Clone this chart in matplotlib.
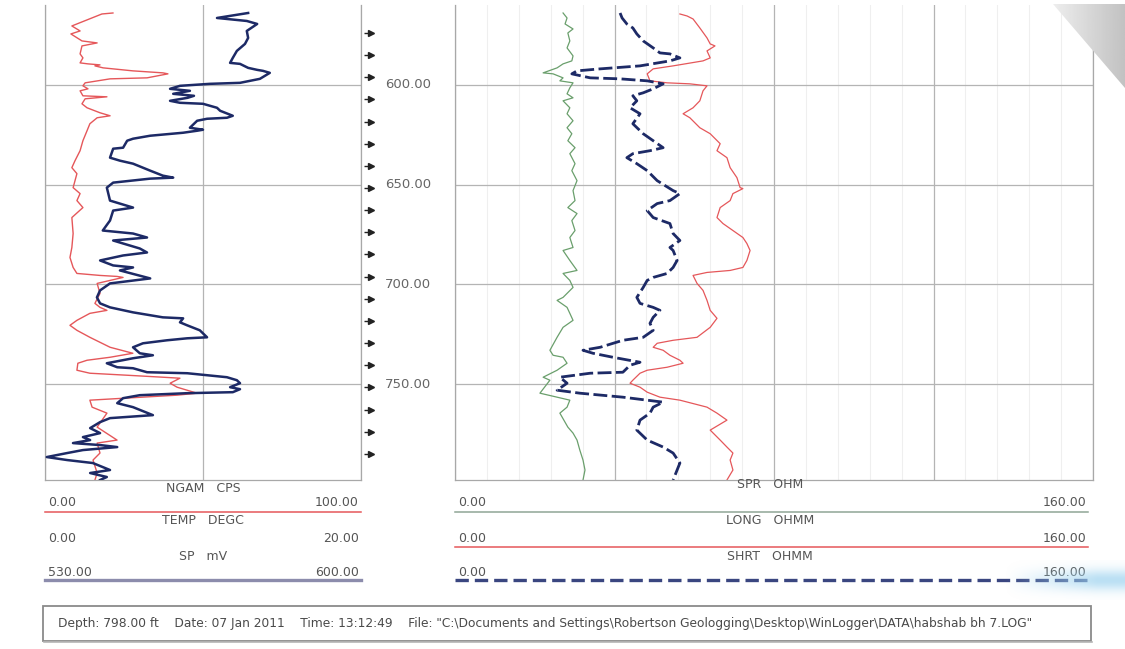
import numpy as np
import matplotlib
matplotlib.use("Agg")
import matplotlib.pyplot as plt
from matplotlib.lines import Line2D
from matplotlib.patches import Polygon, Rectangle

plt.rcParams['font.family'] = ['DejaVu Sans']

# ---------------------------------------------------------------- data
depth_top, depth_bottom = 560.0, 798.0
grid_depths = [600, 650, 700, 750]
depth_labels = ["600.00", "650.00", "700.00", "750.00"]
marker_depths = [574.0, 585.1, 596.2, 607.3, 618.4, 629.5, 640.6, 651.7, 662.8, 673.9,
                 685.0, 696.1, 707.2, 718.3, 729.4, 740.5, 751.6, 762.7, 773.8, 784.9]

# natural gamma, CPS  (depth ft, value)
ngam = [(564, 21.5), (564.5, 18.0), (570.5, 8.5), (573, 11.1), (574.5, 8.2), (578, 11.7),
        (579, 16.5), (580.5, 11.7), (584.5, 11.1), (586.5, 12.0), (589, 11.1), (589.5, 13.6),
        (590, 17.4), (590.5, 15.8), (591.5, 18.4), (593, 27.8), (594, 37.3), (594.5, 38.9),
        (596.5, 32.3), (597, 20.6), (599, 12.7), (600.5, 12.0), (602, 13.6), (603, 11.1),
        (605.5, 12.0), (606, 19.6), (607, 12.7), (609.5, 11.7), (611.5, 13.3), (614, 17.4),
        (615.5, 20.6), (616.5, 16.5), (619.5, 14.2), (623, 13.3), (628, 12.0), (633, 11.1),
        (638, 9.5), (641.5, 8.5), (644.5, 10.1), (651.5, 8.9), (654.5, 11.1), (658, 10.1),
        (661.5, 12.0), (666.5, 8.5), (674.5, 8.9), (681.5, 8.5), (686.5, 7.9), (691.5, 8.9),
        (694.5, 10.1), (695.5, 17.4), (696, 22.8), (696.5, 24.7), (699.5, 16.5), (704.5, 17.4),
        (709.5, 15.8), (711.5, 17.4), (713, 19.6), (714.5, 14.2), (718, 10.1), (720.5, 7.9),
        (723, 10.1), (726.5, 14.2), (731.5, 20.6), (734.5, 27.8), (736.5, 20.6), (738, 13.3),
        (739.5, 10.4), (743, 10.1), (744.5, 14.2), (745.5, 25.9), (746.5, 37.3), (747, 42.7),
        (749.5, 39.6), (751.5, 41.8), (754.5, 48.1), (755.5, 41.8), (758, 14.2), (761.5, 14.9),
        (764.5, 19.6), (771.5, 16.5), (778, 22.8), (779.5, 16.5), (784.5, 17.4), (788, 15.2),
        (794.5, 16.5), (798, 15.8)]

# spontaneous potential, mV
sp = [(564, 575.0), (566.5, 568.1), (568, 574.7), (569.5, 577.0), (573, 574.7), (576.5, 575.0),
      (579.5, 574.3), (583, 572.5), (586.5, 571.6), (589, 571.0), (589.5, 573.2), (591.5, 575.0),
      (592.5, 577.0), (593, 578.3), (594, 579.8), (595.5, 578.7), (597, 577.6), (599, 573.2),
      (599.5, 566.5), (600.5, 559.9), (602, 557.7), (603, 562.1), (604.5, 558.4), (605.5, 563.0),
      (606.5, 561.6), (608, 557.7), (609, 559.9), (609.5, 565.0), (611.5, 568.1), (613, 568.8),
      (615.5, 571.6), (616.5, 570.3), (617, 565.9), (618, 563.7), (621.5, 562.1), (622.5, 565.0),
      (623, 563.7), (624, 560.6), (625.5, 553.3), (627, 549.5), (628, 548.2), (631.5, 547.3),
      (632, 545.1), (636.5, 544.4), (638, 546.6), (639.5, 549.5), (643, 553.3), (645.5, 556.1),
      (646.5, 558.4), (647, 553.3), (649, 545.1), (651.5, 543.7), (658, 544.4), (661.5, 549.5),
      (663, 545.1), (668, 544.4), (673, 542.8), (674.5, 549.5), (676.5, 552.6), (678, 545.1),
      (679.5, 547.3), (682, 551.0), (684, 552.6), (685.5, 547.3), (688, 542.2), (690.5, 545.1),
      (691.5, 549.5), (693, 546.6), (697, 553.3), (699.5, 544.4), (703, 542.2), (706.5, 541.5),
      (709.5, 542.2), (711.5, 544.4), (714, 549.5), (716.5, 556.1), (717, 560.6), (719, 559.9),
      (720.5, 561.5), (723, 564.3), (726.5, 565.9), (727, 561.5), (728, 557.0), (729.5, 551.7),
      (731.5, 549.5), (734.5, 551.0), (735.5, 553.9), (737, 549.5), (739.5, 543.7), (741.5, 546.0),
      (742, 549.5), (744, 552.6), (744.5, 561.5), (746.5, 570.3), (748, 572.5), (749.5, 573.2),
      (751.5, 571.0), (752.5, 573.2), (754, 571.6), (754.5, 561.5), (755.5, 551.0), (757, 547.3),
      (759.5, 546.0), (761.5, 549.5), (765.5, 553.9), (767, 544.4), (769, 542.2), (772, 540.0),
      (774.5, 542.2), (776.5, 538.4), (778, 540.0), (779.5, 536.2), (780.5, 542.2), (781.5, 546.0),
      (783, 538.4), (784.5, 534.9), (786.5, 530.4), (788, 534.9), (789.5, 540.6), (793, 544.4),
      (794.5, 540.0), (796.5, 543.7), (798, 542.2)]

# single point resistance, ohm
spr = [(564, 27.1), (566.5, 28.1), (569.5, 27.6), (572, 29.6), (574, 28.3), (578, 28.8),
       (581.5, 28.1), (585.5, 29.6), (588, 29.3), (589.5, 27.1), (591.5, 25.6), (594, 22.1),
       (594.5, 24.6), (596.5, 27.1), (598, 26.3), (599, 29.6), (601.5, 28.8), (604.5, 28.1),
       (606.5, 29.6), (608, 27.1), (611.5, 28.8), (614.5, 28.1), (618, 29.6), (621.5, 28.1),
       (624.5, 29.3), (628, 28.3), (631.5, 30.1), (634.5, 28.8), (639.5, 30.1), (643, 29.3),
       (648, 30.6), (653, 29.6), (658, 30.1), (661.5, 28.3), (664.5, 30.6), (668, 29.3),
       (673, 30.1), (676.5, 28.8), (681.5, 29.6), (683, 27.1), (688, 28.8), (693, 30.6),
       (694.5, 27.1), (698, 28.8), (701.5, 29.6), (706.5, 27.1), (708, 25.6), (711.5, 28.1),
       (714.5, 28.8), (718, 29.6), (721.5, 27.1), (726.5, 25.6), (733, 23.8), (735.5, 24.6),
       (736.5, 27.1), (739.5, 28.1), (743, 25.6), (746.5, 22.1), (748, 23.8), (754.5, 21.3),
       (756.5, 25.6), (758, 28.8), (761.5, 28.1), (764.5, 26.3), (771.5, 28.3), (774.5, 29.6),
       (778, 30.6), (783, 31.3), (788, 32.1), (793, 32.6), (798, 32.1)]

# long normal resistivity, ohm-m
long_n = [(564.5, 56.4), (565.5, 58.2), (567, 59.7), (571.5, 61.4), (576.5, 63.2), (579.5, 64.0),
          (580.5, 65.2), (583, 63.2), (586.5, 64.0), (588, 62.2), (590.5, 54.7), (592, 49.7),
          (594.5, 48.2), (598, 48.9), (599, 53.2), (599.5, 58.9), (600.5, 63.2), (603, 62.2),
          (608, 61.4), (611.5, 59.7), (614.5, 57.2), (616.5, 58.9), (621.5, 61.4), (624.5, 64.0),
          (629.5, 66.5), (633, 65.7), (636.5, 68.2), (641.5, 69.0), (646.5, 70.7), (651.5, 71.5),
          (652, 72.2), (654.5, 69.7), (658, 69.0), (661.5, 66.5), (666.5, 65.7), (669.5, 67.2),
          (673, 69.7), (676.5, 72.2), (679.5, 73.2), (683, 74.0), (688, 73.2), (691.5, 72.2),
          (693, 69.0), (694, 63.2), (695.5, 59.7), (699.5, 60.7), (703, 62.2), (708, 63.2),
          (713, 64.0), (717, 65.7), (721.5, 64.0), (726.5, 60.7), (728, 54.7), (729.5, 50.7),
          (731.5, 49.7), (733, 52.2), (735.5, 53.9), (738, 56.4), (739.5, 57.2), (741.5, 53.2),
          (743, 48.2), (744.5, 46.4), (748, 44.6), (749.5, 43.9), (751.5, 46.4), (754, 48.2),
          (756.5, 51.4), (758, 56.4), (761.5, 63.2), (764.5, 65.7), (768, 68.2), (773, 64.0),
          (778, 66.5), (781.5, 68.2), (784.5, 69.7), (788, 69.0), (793, 69.7), (798, 68.2)]

# short normal resistivity, ohm-m
shrt_n = [(564, 41.4), (566.5, 41.9), (569.5, 43.1), (571.5, 44.6), (574.5, 45.6), (578, 47.2),
          (581.5, 49.7), (584, 51.4), (584.5, 53.9), (586.5, 56.4), (588, 53.9), (590.5, 46.4),
          (592, 36.4), (593, 30.6), (594.5, 29.3), (596.5, 33.9), (597, 41.4), (598, 48.2),
          (599.5, 52.2), (602, 49.7), (604, 47.2), (605.5, 44.6), (608, 45.6), (611.5, 43.9),
          (614.5, 46.4), (619.5, 44.6), (624.5, 47.2), (628, 49.7), (631.5, 52.2), (633, 48.9),
          (634.5, 44.6), (636.5, 43.1), (639.5, 45.6), (643, 48.2), (648, 50.7), (653, 54.7),
          (654.5, 56.4), (658, 53.9), (659.5, 50.7), (663, 48.2), (666.5, 49.7), (669.5, 53.9),
          (674.5, 54.7), (678, 56.4), (681.5, 53.9), (683, 54.7), (688, 55.7), (691.5, 54.7),
          (694.5, 53.2), (696.5, 49.7), (698, 48.2), (701.5, 47.2), (706.5, 45.6), (709.5, 46.4),
          (711.5, 49.7), (713, 51.4), (716.5, 49.7), (719.5, 48.9), (723, 49.7), (726.5, 47.2),
          (728, 42.1), (731.5, 36.4), (733, 32.1), (734.5, 34.6), (736.5, 39.6), (739, 46.4),
          (740.5, 43.9), (744, 42.1), (744.5, 33.9), (746.5, 26.3), (749.5, 28.1), (753, 25.6),
          (754.5, 31.3), (756.5, 42.1), (759, 52.2), (761.5, 49.7), (764.5, 48.9), (768, 46.4),
          (773, 45.6), (778, 48.2), (781.5, 52.2), (784.5, 54.7), (789.5, 56.4), (793, 55.7),
          (798, 54.7)]

# curve scales
ngam_range = (0.0, 100.0)
temp_range = (0.0, 20.0)
sp_range = (530.0, 600.0)
res_range = (0.0, 160.0)

footer = ('Depth: 798.00 ft    Date: 07 Jan 2011    Time: 13:12:49    '
          'File: "C:\\Documents and Settings\\Robertson Geologging\\Desktop\\WinLogger\\DATA\\habshab bh 7.LOG"')

# ---------------------------------------------------------------- styles
RED = '#e5575a'
NAVY = '#1d2a66'
GREEN = '#6a9f6c'
GRID = '#b4b4b4'
TXT = '#555555'
FS = 9

W, H = 1125, 649
fig = plt.figure(figsize=(W / 100, H / 100), dpi=100)
fig.patch.set_facecolor('white')


def box(x0, y0, x1, y1):
    return [x0 / W, 1 - y1 / H, (x1 - x0) / W, (y1 - y0) / H]


def fx(x):
    return x / W


def fy(y):
    return 1 - y / H


def unzip(pairs):
    d, v = zip(*pairs)
    return np.array(d), np.array(v)


def style_track(ax, xmin, xmax, major, minor=None):
    ax.set_xlim(xmin, xmax)
    ax.set_ylim(depth_bottom, depth_top)
    ax.set_xticks(major)
    if minor is not None:
        ax.set_xticks(minor, minor=True)
        ax.grid(True, which='minor', axis='x', color='#efefef', lw=0.8)
    ax.set_yticks(grid_depths)
    ax.grid(True, which='major', color=GRID, lw=0.9)
    ax.tick_params(which='both', length=0, labelbottom=False, labelleft=False)
    for s in ('left', 'right', 'bottom'):
        ax.spines[s].set_color('#a8a8a8')
        ax.spines[s].set_linewidth(0.9)
    ax.spines['top'].set_visible(False)
    ax.set_axisbelow(True)


# ---------------------------------------------------------------- left track
ax_l = fig.add_axes(box(45, 5, 361, 480))
style_track(ax_l, *ngam_range, major=[0, 50, 100])
d, v = unzip(ngam)
ax_l.plot(v, d, color=RED, lw=1.0)

ax_sp = ax_l.twiny()
ax_sp.set_xlim(*sp_range)
ax_sp.set_ylim(depth_bottom, depth_top)
ax_sp.axis('off')
d, v = unzip(sp)
ax_sp.plot(v, d, color=NAVY, lw=1.8)

# ---------------------------------------------------------------- depth column
ax_d = fig.add_axes(box(361, 5, 455, 480))
ax_d.set_xlim(0, 1)
ax_d.set_ylim(depth_bottom, depth_top)
ax_d.axis('off')
ax_d.hlines(marker_depths, 0.03, 0.10, color='#222222', lw=1.0)
ax_d.plot(np.full(len(marker_depths), 0.11), marker_depths, ls='none',
          marker='>', ms=4.5, color='#222222')
for dep, lab in zip(grid_depths, depth_labels):
    ax_d.text(0.255, dep, lab, ha='left', va='center', fontsize=9.5, color='#666666')

# ---------------------------------------------------------------- right track
ax_r = fig.add_axes(box(455, 5, 1093, 480))
style_track(ax_r, *res_range, major=[0, 40, 80, 120, 160],
            minor=np.arange(0, 161, 8))
d, v = unzip(spr)
ax_r.plot(v, d, color=GREEN, lw=0.9)
d, v = unzip(long_n)
ax_r.plot(v, d, color=RED, lw=0.9)
d, v = unzip(shrt_n)
ax_r.plot(v, d, color=NAVY, lw=2.0, ls=(0, (5, 1.6)))

# ---------------------------------------------------------------- curve headers


def header(xl, xr, xc, y_title, title, lo, hi, y_vals, y_line, **line_kw):
    fig.text(fx(xc), fy(y_title), title, ha='center', va='center', fontsize=FS, color=TXT)
    fig.text(fx(xl + 3), fy(y_vals), lo, ha='left', va='center', fontsize=FS, color=TXT)
    fig.text(fx(xr - 2), fy(y_vals), hi, ha='right', va='center', fontsize=FS, color=TXT)
    if line_kw:
        fig.add_artist(Line2D([fx(xl), fx(xr)], [fy(y_line), fy(y_line)], **line_kw))


def fmt(v):
    return f'{v:.2f}'


header(45, 361, 203, 488, 'NGAM   CPS', fmt(ngam_range[0]), fmt(ngam_range[1]), 502, 512,
       color=RED, lw=1.1)
header(45, 361, 203, 521, 'TEMP   DEGC', fmt(temp_range[0]), fmt(temp_range[1]), 538, 546)
header(45, 361, 203, 556, 'SP   mV', fmt(sp_range[0]), fmt(sp_range[1]), 572, 580,
       color='#8c8cac', lw=2.4)

header(455, 1088, 770, 484, 'SPR   OHM', fmt(res_range[0]), fmt(res_range[1]), 502, 512,
       color='#8fa596', lw=1.1)
header(455, 1088, 770, 521, 'LONG   OHMM', fmt(res_range[0]), fmt(res_range[1]), 538, 547,
       color=RED, lw=1.1)
header(455, 1088, 770, 556, 'SHRT   OHMM', fmt(res_range[0]), fmt(res_range[1]), 572, 580,
       color='#3a4680', lw=2.4, ls=(0, (4, 1.8)))

# ---------------------------------------------------------------- status box
fig.add_artist(Rectangle((fx(43), fy(641)), fx(1091) - fx(43), fy(606) - fy(641),
                         transform=fig.transFigure, facecolor='white',
                         edgecolor='#8a8a8a', lw=1.3))
fig.add_artist(Line2D([fx(44), fx(1092)], [fy(642), fy(642)], color='#b5b5b5', lw=1.2))
fig.text(fx(58), fy(624), footer, ha='left', va='center', fontsize=8.8, color='#4a4a4a')

# ---------------------------------------------------------------- page corner and glare
ax_c = fig.add_axes([0, 0, 1, 1], zorder=10)
ax_c.set_xlim(0, W)
ax_c.set_ylim(H, 0)
ax_c.axis('off')
gx = np.linspace(0, 1, 64)
corner = np.outer(np.ones(64), 0.93 - 0.17 * gx)
im = ax_c.imshow(corner, cmap='gray', vmin=0, vmax=1, extent=(1053, 1125, 88, 4),
                 aspect='auto', interpolation='bilinear')
tri = Polygon([(1053, 4), (1125, 4), (1125, 88)], closed=True, transform=ax_c.transData,
              facecolor='none', edgecolor='none')
ax_c.add_patch(tri)
im.set_clip_path(tri)

glare = np.zeros((40, 120, 4))
gxx = np.linspace(0, 1, 120)
gyy = np.linspace(-1, 1, 40)
glare[..., 0] = 0.62
glare[..., 1] = 0.83
glare[..., 2] = 0.94
glare[..., 3] = np.outer(np.exp(-(gyy / 0.55) ** 2), np.clip(gxx * 1.3, 0, 1)) * 0.7
ax_c.imshow(glare, extent=(1005, 1125, 600, 560), aspect='auto', interpolation='bilinear')
ax_c.set_xlim(0, W)
ax_c.set_ylim(H, 0)

fig.savefig('out.png', dpi=100, facecolor='white')
